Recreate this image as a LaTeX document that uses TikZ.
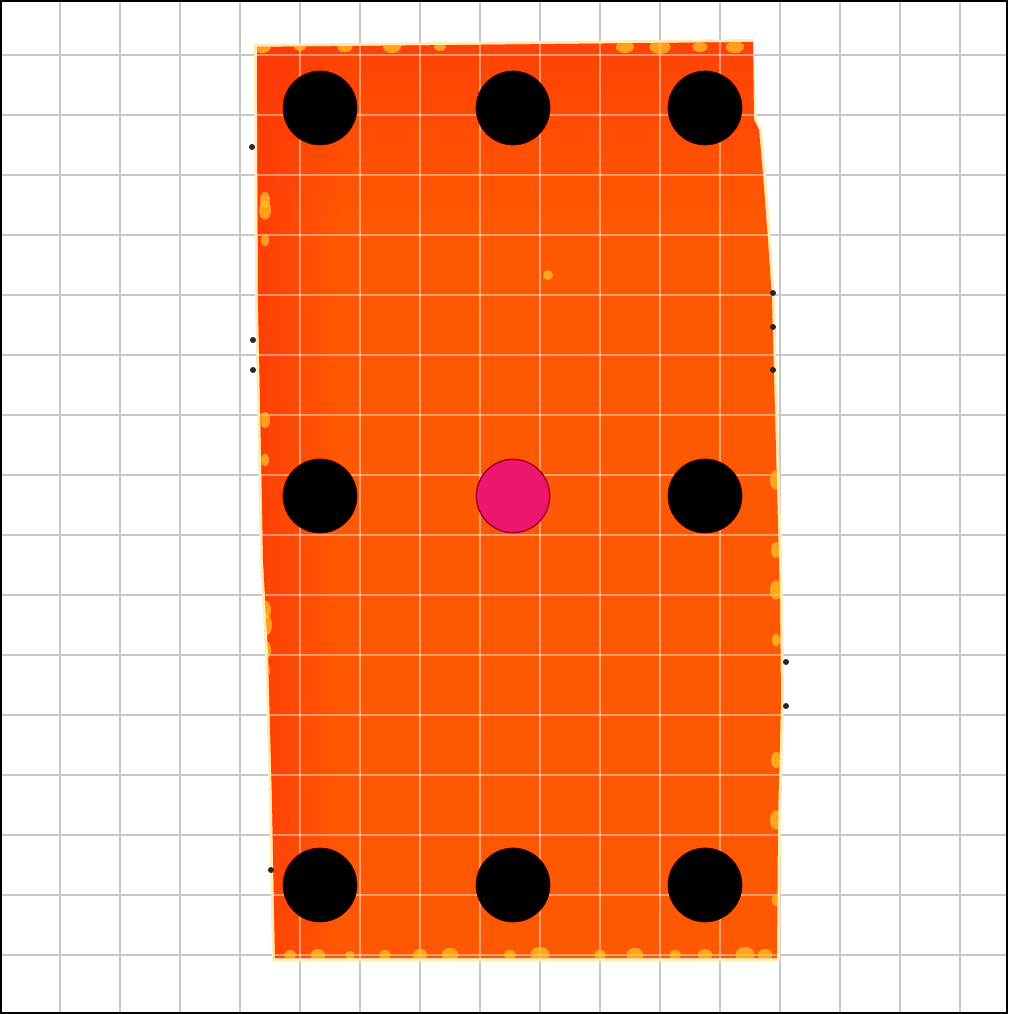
\documentclass[tikz,border=0pt]{standalone}
\usetikzlibrary{calc,fadings}
\begin{document}
\begin{tikzpicture}[x=0.03cm,y=-0.03cm,
  gridline/.style={draw=gray!42,line width=1.5pt},
  sheetgrid/.style={draw=white,opacity=0.42,line width=1.0pt},
  hole/.style={circle,fill=black,draw=black!70!red,line width=0.6pt,minimum size=2.22cm,inner sep=0pt},
  probe/.style={circle,fill=pinkc,draw=darkred,line width=1.2pt,minimum size=2.2cm,inner sep=0pt},
  blob/.style={fill=yellowc,opacity=0.7},
  speck/.style={fill=black!85}]
\definecolor{orangec}{RGB}{255,88,2}
\definecolor{redorange}{RGB}{255,50,10}
\definecolor{yellowc}{RGB}{255,200,40}
\definecolor{pinkc}{RGB}{238,22,110}
\definecolor{darkred}{RGB}{160,0,40}
\useasboundingbox (0,0) rectangle (1008,1014);
\fill[white] (0,0) rectangle (1008,1014);
% background grid
\foreach \gx in {60,120,...,960} \draw[gridline] (\gx,0) -- (\gx,1014);
\foreach \gy in {55,115,...,955} \draw[gridline] (0,\gy) -- (1008,\gy);
% orange sheet outline
\def\sheet{(257,47) -- (753,42) -- (754,120) -- (759,130) -- (763,175) -- (768,240) -- (772,300) -- (776,450) -- (780,600) -- (781,700) -- (778,820) -- (777,958) -- (275,958) -- (272,800) -- (268,650) -- (263,560) -- (262,500) -- (258,300) -- cycle}
\fill[yellowc!35!white] (254,44) -- (753,39) -- (757,120) -- (762,130) -- (766,175) -- (771,240) -- (775,300) -- (779,450) -- (783,600) -- (784,700) -- (781,820) -- (780,961) -- (272,961) -- (269,800) -- (265,650) -- (260,560) -- (259,500) -- (255,300) -- cycle;
\fill[orangec] \sheet;
\begin{scope}
\clip \sheet;
\fill[redorange,path fading=south,fill opacity=0.6] (240,30) rectangle (790,220);
\fill[redorange,path fading=east,fill opacity=0.8] (240,30) rectangle (340,970);
\foreach \gx in {300,360,...,720} \draw[sheetgrid] (\gx,0) -- (\gx,1014);
\foreach \gy in {55,115,...,955} \draw[sheetgrid] (0,\gy) -- (1008,\gy);
% edge blobs
\foreach \bx/\r in {262/6,300/4,345/5,392/6,440/4,625/6,660/7,700/5,735/6}
  \fill[blob] (\bx,47) ellipse [x radius=\r*1.5, y radius=\r];
\foreach \bx/\r in {290/5,318/6,350/4,385/5,420/6,450/7,510/5,540/8,600/5,635/7,675/5,705/6,745/8,765/6}
  \fill[blob] (\bx,955) ellipse [x radius=\r*1.2, y radius=\r];
\foreach \by/\r in {200/5,210/6,240/4,420/5,460/4,610/6,625/7,650/6,670/5,690/4}
  \fill[blob] (265,\by) ellipse [x radius=\r, y radius=\r*1.6];
\foreach \by/\r in {250/4,480/6,550/5,590/6,640/4,760/5,820/6,900/4}
  \fill[blob] (776,\by) ellipse [x radius=\r, y radius=\r*1.6];
\fill[blob] (548,275) circle (5);
\end{scope}
% specks at edges
\foreach \p in {(773,293),(773,327),(773,370),(786,662),(786,706),(253,340),(253,370),(271,870),(252,147)}
  \fill[speck] \p circle (3);
% holes
\node[hole] (h11) at (320,108) {};
\node[hole] (h12) at (513,108) {};
\node[hole] (h13) at (705,108) {};
\node[hole] (h21) at (320,496) {};
\node[probe] (p22) at (513,496) {};
\node[hole] (h23) at (705,496) {};
\node[hole] (h31) at (320,885) {};
\node[hole] (h32) at (513,885) {};
\node[hole] (h33) at (705,885) {};
% frame
\draw[black,line width=1.2pt] (1,1) rectangle (1007,1013);
\end{tikzpicture}
\end{document}
